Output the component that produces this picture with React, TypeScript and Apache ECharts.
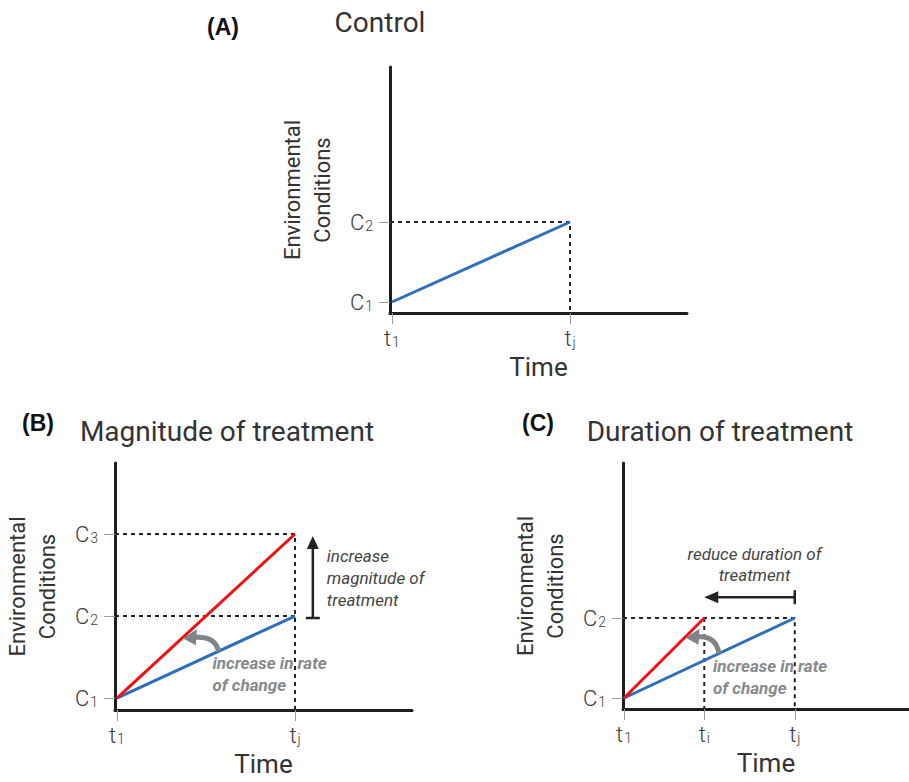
import React, { useEffect, useRef } from 'react';
import * as echarts from 'echarts';

// ---- data ----
// time positions (t1 = 0, tj = 1, ti in panel C)
const timeTicksAB = [0, 1];
const timeLabelsAB = ['t|1', 't|j'];
const timeTicksC = [0, 0.47, 1];
const timeLabelsC = ['t|1', 't|i', 't|j'];

// environmental condition levels
const condTicksA = [1, 2];
const condLabelsA = ['C|1', 'C|2'];
const condTicksB = [1, 2, 3];
const condLabelsB = ['C|1', 'C|2', 'C|3'];
const condTicksC = [1, 2];
const condLabelsC = ['C|1', 'C|2'];

// lines [t, C]
const controlA = [[0, 1], [1, 2]];
const blueB = [[0, 1], [1, 2]];
const redB = [[0, 1], [1, 3]];
const blueC = [[0, 1], [1, 2]];
const redC = [[0, 1], [0.47, 2]];

// axis extents
const xRangeA = [-0.011, 1.657];
const yRangeA = [0.8625, 3.9375];
const xRangeB = [-0.011, 1.657];
const yRangeB = [0.854, 3.866];
const xRangeC = [-0.006, 1.669];
const yRangeC = [0.8625, 3.9375];

const FONT = 'Roboto, "Noto Sans", sans-serif';
const BLUE = '#2f6dbd';
const RED = '#f01010';
const AXIS = '#1e1e1e';
const GREY_ARROW = '#7e8488';
const GREY_TEXT = '#868a8e';

const rich = {
  m: { fontSize: 22, color: '#3a3a3a', fontFamily: FONT, fontWeight: 300 },
  s: { fontSize: 14, color: '#3a3a3a', fontFamily: FONT, fontWeight: 300, verticalAlign: 'bottom', padding: [0, 0, 0, 1] },
};

function labelFor(ticks: number[], labels: string[]) {
  return (v: number) => {
    const i = ticks.findIndex((t) => Math.abs(t - v) < 1e-6);
    if (i < 0) return '';
    const [a, b] = labels[i].split('|');
    return `{m|${a}}{s|${b}}`;
  };
}

function xAxis(grid: number, range: number[], ticks: number[], labels: string[]) {
  return {
    type: 'value',
    gridIndex: grid,
    min: range[0],
    max: range[1],
    axisLine: { show: true, onZero: false, lineStyle: { color: AXIS, width: 3 } },
    axisTick: { show: true, customValues: ticks, length: 11, lineStyle: { color: '#9c9c9c', width: 1 } },
    axisLabel: { show: true, customValues: ticks, margin: 14, formatter: labelFor(ticks, labels), rich },
    splitLine: { show: false },
    name: 'Time',
    nameLocation: 'middle',
    nameGap: 41,
    nameTextStyle: { fontSize: 26, color: '#333', fontFamily: FONT },
  };
}

function yAxis(grid: number, range: number[], ticks: number[], labels: string[]) {
  return {
    type: 'value',
    gridIndex: grid,
    min: range[0],
    max: range[1],
    axisLine: { show: true, onZero: false, lineStyle: { color: AXIS, width: 3 } },
    axisTick: { show: true, customValues: ticks, length: 11, lineStyle: { color: '#9c9c9c', width: 1 } },
    axisLabel: { show: true, customValues: ticks, margin: 17, formatter: labelFor(ticks, labels), rich },
    splitLine: { show: false },
    name: 'Environmental\nConditions',
    nameLocation: 'middle',
    nameGap: 53,
    nameRotate: 90,
    nameTextStyle: { fontSize: 22, lineHeight: 30, color: '#333', fontFamily: FONT },
  };
}

function solid(grid: number, data: number[][], color: string) {
  return {
    type: 'line',
    xAxisIndex: grid,
    yAxisIndex: grid,
    data,
    showSymbol: false,
    symbol: 'none',
    lineStyle: { color, width: 3 },
    z: 3,
  };
}

function dashed(grid: number, data: number[][]) {
  return {
    type: 'line',
    xAxisIndex: grid,
    yAxisIndex: grid,
    data,
    showSymbol: false,
    symbol: 'none',
    lineStyle: { color: '#222', width: 2, type: [4, 4] },
    z: 2,
  };
}

function onLine(line: number[][], t: number) {
  const [p0, p1] = line;
  return [t, p0[1] + ((p1[1] - p0[1]) * (t - p0[0])) / (p1[0] - p0[0])];
}

// grey curved "increase in rate" arrow + text
function rateArrow(api: any, startVal: number[], tipVal: number[]) {
  const S = api.coord(startVal);
  const T = api.coord(tipVal);
  const B = [T[0] + 13, T[1]];
  return [
    {
      type: 'bezierCurve',
      shape: { x1: S[0], y1: S[1], x2: B[0], y2: B[1], cpx1: S[0] - 3, cpy1: B[1] - 1 },
      style: { stroke: GREY_ARROW, lineWidth: 5, fill: null },
    },
    {
      type: 'polygon',
      shape: { points: [[T[0], T[1] + 1], [B[0] + 1, B[1] - 8], [B[0], B[1] + 8]] },
      style: { fill: GREY_ARROW },
    },
    {
      type: 'text',
      style: {
        text: 'increase in rate\nof change',
        x: S[0] - 6,
        y: S[1] + 1,
        align: 'left',
        verticalAlign: 'top',
        fontSize: 17,
        lineHeight: 22,
        fontStyle: 'italic',
        fontWeight: 'bold',
        fontFamily: FONT,
        fill: GREY_TEXT,
      },
    },
  ];
}

export default function App() {
  const ref = useRef<HTMLDivElement>(null);
  useEffect(() => {
    if (!ref.current) return;
    const chart = echarts.init(ref.current, null, { renderer: 'svg' });

    const annotB = {
      type: 'custom',
      xAxisIndex: 1,
      yAxisIndex: 1,
      clip: false,
      data: [[0, 1]],
      z: 4,
      renderItem: (_p: any, api: any) => {
        const xA = 1.1;
        const p0 = api.coord([xA, condTicksB[1]]);
        const p1 = api.coord([xA, condTicksB[2]]);
        const mid = api.coord([xA, (condTicksB[1] + condTicksB[2]) / 2]);
        const children: any[] = [
          { type: 'line', shape: { x1: p0[0], y1: p0[1] + 2, x2: p1[0], y2: p1[1] + 10 }, style: { stroke: '#222', lineWidth: 2.5 } },
          { type: 'line', shape: { x1: p0[0] - 7, y1: p0[1] + 2, x2: p0[0] + 7, y2: p0[1] + 2 }, style: { stroke: '#222', lineWidth: 2.5 } },
          { type: 'polygon', shape: { points: [[p1[0], p1[1] + 2], [p1[0] - 6, p1[1] + 15], [p1[0] + 6, p1[1] + 15]] }, style: { fill: '#222' } },
          {
            type: 'text',
            style: {
              text: 'increase\nmagnitude of\ntreatment',
              x: mid[0] + 14,
              y: mid[1] + 3,
              align: 'left',
              verticalAlign: 'middle',
              fontSize: 17,
              lineHeight: 22,
              fontStyle: 'italic',
              fontFamily: FONT,
              fill: '#444',
            },
          },
          ...rateArrow(api, onLine(blueB, 0.57), onLine(redB, 0.37)),
        ];
        return { type: 'group', children };
      },
    };

    const annotC = {
      type: 'custom',
      xAxisIndex: 2,
      yAxisIndex: 2,
      clip: false,
      data: [[0, 1]],
      z: 4,
      renderItem: (_p: any, api: any) => {
        const yA = 2.26;
        const p0 = api.coord([timeTicksC[2], yA]);
        const p1 = api.coord([timeTicksC[1], yA]);
        const children: any[] = [
          { type: 'line', shape: { x1: p0[0], y1: p0[1], x2: p1[0] + 10, y2: p1[1] }, style: { stroke: '#222', lineWidth: 2.5 } },
          { type: 'line', shape: { x1: p0[0], y1: p0[1] - 7, x2: p0[0], y2: p0[1] + 7 }, style: { stroke: '#222', lineWidth: 2.5 } },
          { type: 'polygon', shape: { points: [[p1[0], p1[1]], [p1[0] + 14, p1[1] - 6], [p1[0] + 14, p1[1] + 6]] }, style: { fill: '#222' } },
          {
            type: 'text',
            style: {
              text: 'reduce duration of\ntreatment',
              x: (p0[0] + p1[0]) / 2 + 5,
              y: p0[1] - 12,
              align: 'center',
              verticalAlign: 'bottom',
              fontSize: 17,
              lineHeight: 21,
              fontStyle: 'italic',
              fontFamily: FONT,
              fill: '#444',
            },
          },
          ...rateArrow(api, onLine(blueC, 0.556), onLine(redC, 0.36)),
        ];
        return { type: 'group', children };
      },
    };

    const titleText = (text: string, x: number, y: number, bold: boolean) => ({
      type: 'text',
      x,
      y,
      style: {
        text,
        align: 'center',
        verticalAlign: 'middle',
        fontSize: bold ? 23 : 28,
        fontWeight: bold ? 'bold' : 'normal',
        fontFamily: bold ? '"Liberation Sans", Arial, sans-serif' : FONT,
        fill: bold ? '#111' : '#333',
      },
    });

    chart.setOption({
      animation: false,
      backgroundColor: '#ffffff',
      grid: [
        { left: 390, top: 67, width: 297, height: 246 },
        { left: 115, top: 463, width: 297, height: 247 },
        { left: 623, top: 463, width: 298, height: 246 },
      ],
      xAxis: [
        xAxis(0, xRangeA, timeTicksAB, timeLabelsAB),
        xAxis(1, xRangeB, timeTicksAB, timeLabelsAB),
        xAxis(2, xRangeC, timeTicksC, timeLabelsC),
      ],
      yAxis: [
        yAxis(0, yRangeA, condTicksA, condLabelsA),
        yAxis(1, yRangeB, condTicksB, condLabelsB),
        yAxis(2, yRangeC, condTicksC, condLabelsC),
      ],
      graphic: [
        titleText('(A)', 223, 27, true),
        titleText('Control', 380, 22, false),
        titleText('(B)', 38, 423, true),
        titleText('Magnitude of treatment', 227, 431, false),
        titleText('(C)', 538, 423, true),
        titleText('Duration of treatment', 720, 431, false),
      ],
      series: [
        // panel A
        dashed(0, [[xRangeA[0], condTicksA[1]], [timeTicksAB[1], condTicksA[1]], [timeTicksAB[1], yRangeA[0]]]),
        solid(0, controlA, BLUE),
        // panel B
        dashed(1, [[xRangeB[0], condTicksB[2]], [timeTicksAB[1], condTicksB[2]], [timeTicksAB[1], yRangeB[0]]]),
        dashed(1, [[xRangeB[0], condTicksB[1]], [timeTicksAB[1], condTicksB[1]]]),
        solid(1, blueB, BLUE),
        solid(1, redB, RED),
        annotB,
        // panel C
        dashed(2, [[xRangeC[0], condTicksC[1]], [timeTicksC[2], condTicksC[1]], [timeTicksC[2], yRangeC[0]]]),
        dashed(2, [[timeTicksC[1], condTicksC[1]], [timeTicksC[1], yRangeC[0]]]),
        solid(2, blueC, BLUE),
        solid(2, redC, RED),
        annotC,
      ],
    });
    return () => chart.dispose();
  }, []);
  return <div ref={ref} style={{ position: 'absolute', left: 0, top: 0, width: 909, height: 782 }} />;
}
